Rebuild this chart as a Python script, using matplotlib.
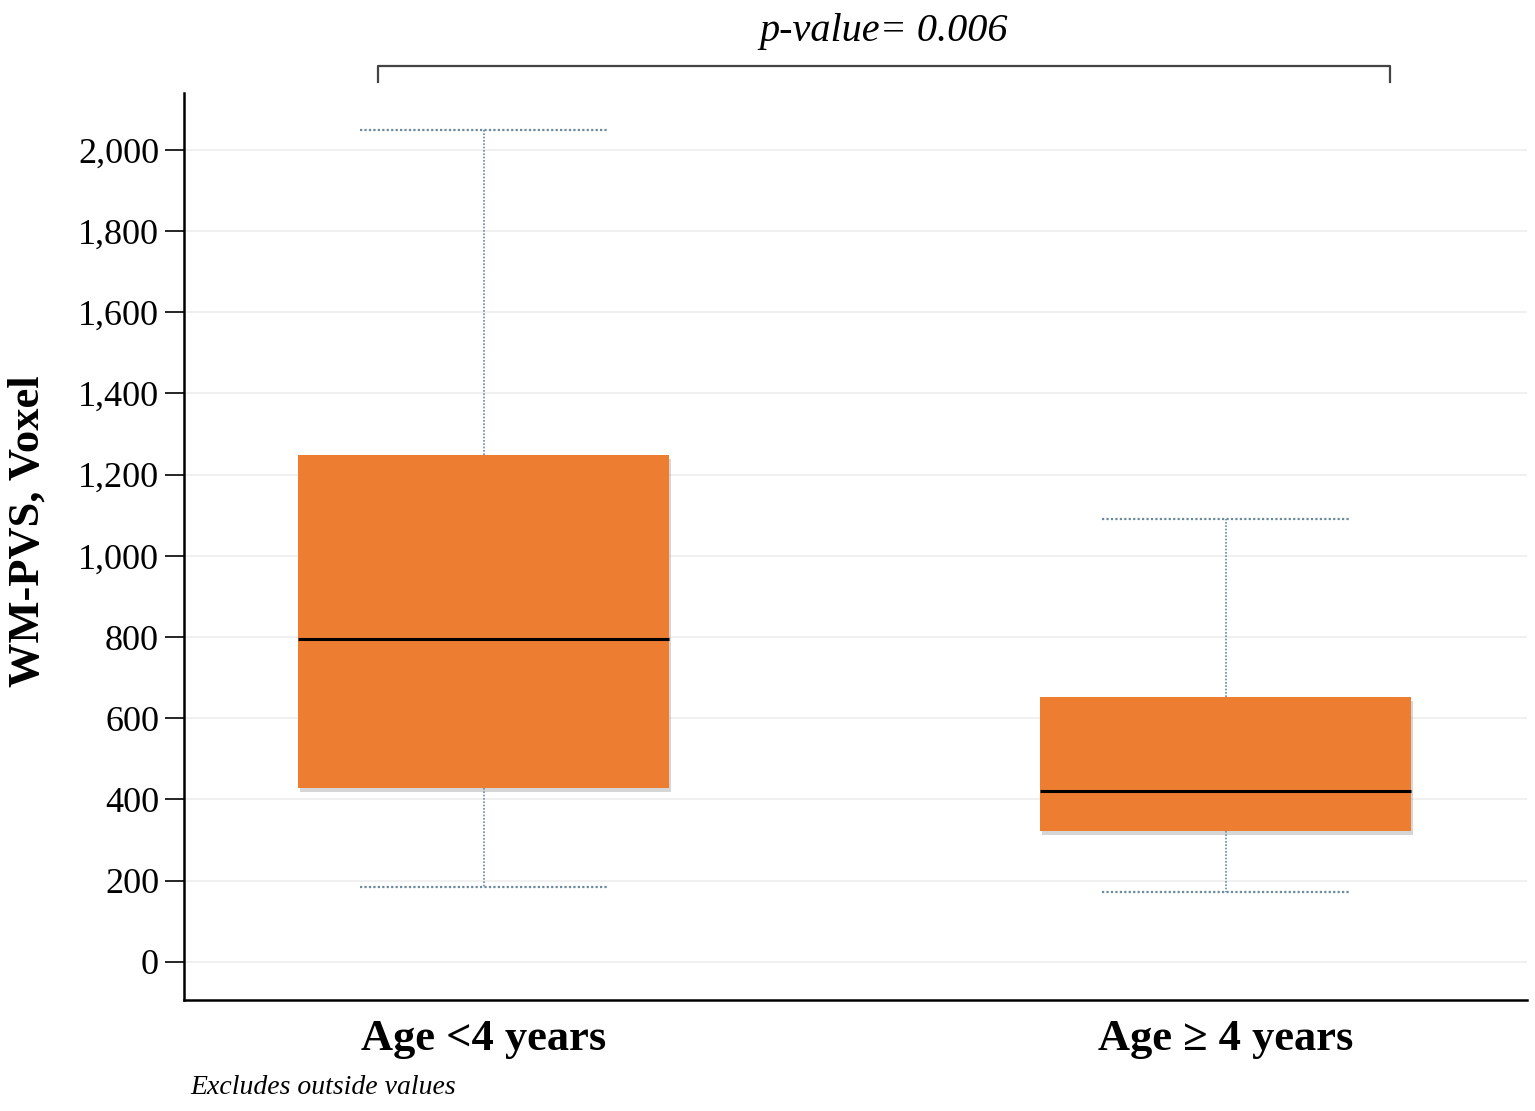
import matplotlib
matplotlib.use("Agg")
import matplotlib.pyplot as plt
import matplotlib.patheffects as pe

categories = ["Age <4 years", "Age \u2265 4 years"]
q1_vals = [429, 323]
median_vals = [796, 421]
q3_vals = [1249, 653]
whisker_low = [185, 172]
whisker_high = [2049, 1091]
yticks = [0, 200, 400, 600, 800, 1000, 1200, 1400, 1600, 1800, 2000]
p_text = "p-value= 0.006"

plt.rcParams['font.family'] = ['Liberation Serif', 'DejaVu Serif']

fig = plt.figure(figsize=(15.35, 11.11), dpi=100)
ax = fig.add_axes([0.1199, 0.0999, 0.8749, 0.8164])

stats = []
for i, c in enumerate(categories):
    stats.append(dict(label=c, q1=q1_vals[i], med=median_vals[i], q3=q3_vals[i],
                      whislo=whisker_low[i], whishi=whisker_high[i], fliers=[]))

positions = [1, 2]
bp = ax.bxp(stats, positions=positions, widths=0.5, patch_artist=True,
            showfliers=False, capwidths=0.333,
            boxprops=dict(facecolor="#ED7D31", edgecolor="none", linewidth=0),
            medianprops=dict(color="black", linewidth=2.2),
            whiskerprops=dict(color="#6a8aa0", linewidth=1.2, linestyle=(0, (1, 1))),
            capprops=dict(color="#6a8aa0", linewidth=1.6, linestyle=(0, (1, 1))))
for b in bp['boxes']:
    b.set_path_effects([pe.SimplePatchShadow(offset=(1, -3), shadow_rgbFace="#8a8a8a", alpha=0.35),
                        pe.Normal()])
    b.set_zorder(3)
for m in bp['medians']:
    m.set_zorder(4)

ax.set_xlim(0.596, 2.406)
ax.set_ylim(-94, 2140)
ax.set_yticks(yticks)
ax.set_yticklabels([f"{v:,}" for v in yticks], fontsize=26)
ax.set_xticks(positions)
ax.set_xticklabels(categories, fontsize=32, fontweight="bold")
ax.tick_params(axis='x', length=0, pad=14)
ax.tick_params(axis='y', length=14, width=1.2, pad=4)
ax.yaxis.grid(True, color="#eeeeee", linewidth=1.2)
ax.set_axisbelow(True)
for s in ['top', 'right']:
    ax.spines[s].set_visible(False)
for s in ['left', 'bottom']:
    ax.spines[s].set_linewidth(1.8)
ax.set_ylabel("WM-PVS, Voxel", fontsize=32, fontweight="bold", labelpad=22)
ax.yaxis.label.set_y(0.517)

# bracket
x0, x1 = 0.857, 2.222
ytop, ybot = 2207, 2167
ax.plot([x0, x0, x1, x1], [ybot, ytop, ytop, ybot], color="#444444", linewidth=1.6, clip_on=False)
ax.text((x0 + x1) / 2, 2268, p_text, fontsize=29, fontstyle="italic", ha="center", va="baseline")

fig.text(190 / 1535, 1 - 1088 / 1111, "Excludes outside values", fontsize=20, fontstyle="italic",
         ha="left", va="center")

fig.savefig("out.png", dpi=100)
